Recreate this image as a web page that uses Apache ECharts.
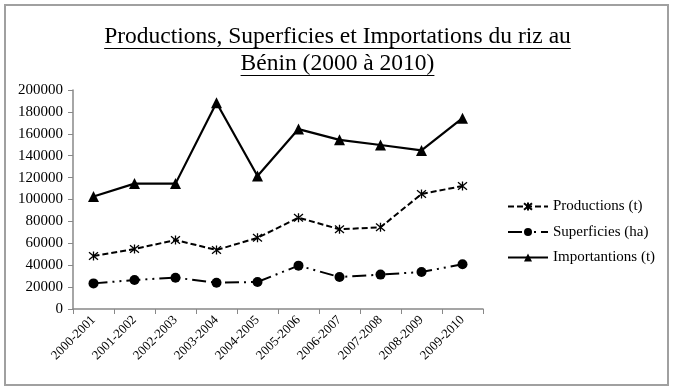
<!DOCTYPE html>
<html><head><meta charset="utf-8">
<script src="https://cdn.jsdelivr.net/npm/echarts@6/dist/echarts.min.js"></script>
<style>html,body{margin:0;padding:0;background:#fff}#c{width:675px;height:391px}</style>
</head><body><div id="c"></div>
<script>
var categories = ['2000-2001','2001-2002','2002-2003','2003-2004','2004-2005','2005-2006','2006-2007','2007-2008','2008-2009','2009-2010'];
var productions = [48500, 54800, 63000, 53900, 65000, 83400, 72800, 74600, 105000, 112300];
var superficies = [23400, 26500, 28600, 24000, 24700, 39600, 29200, 31400, 33800, 40800];
var importations = [102800, 114500, 114500, 188400, 121500, 164300, 154500, 149800, 144800, 174300];
var seriesNames = ['Productions (t)', 'Superficies (ha)', 'Importantions (t)'];
var titleLines = ['Productions, Superficies et Importations du riz au', 'Bénin (2000 à 2010)'];

var FONT = '"Liberation Serif", "Times New Roman", serif';
var titleSize = 23.5;
var cv = document.createElement('canvas').getContext('2d');
cv.font = titleSize + 'px ' + FONT;
var w1 = cv.measureText(titleLines[0]).width;
var w2 = cv.measureText(titleLines[1]).width;
var cx = 337.5;

var chart = echarts.init(document.getElementById('c'));
var star = 'path://M0,0L10,10M10,0L0,10M5,-1L5,11';
chart.setOption({
  backgroundColor: '#fff',
  animation: false,
  title: {
    text: titleLines.join('\n'),
    left: 'center', top: 18,
    textStyle: { fontFamily: FONT, fontSize: titleSize, fontWeight: 'normal', color: '#000', lineHeight: 27 }
  },
  graphic: [
    { type: 'rect', shape: { x: 5, y: 5, width: 663, height: 380 }, style: { fill: 'none', stroke: '#a0a0a0', lineWidth: 2 } },
    { type: 'line', shape: { x1: cx - w1 / 2, y1: 48.5, x2: cx + w1 / 2, y2: 48.5 }, style: { stroke: '#000', lineWidth: 1 } },
    { type: 'line', shape: { x1: cx - w2 / 2, y1: 75.5, x2: cx + w2 / 2, y2: 75.5 }, style: { stroke: '#000', lineWidth: 1 } }
  ],
  legend: {
    orient: 'vertical', left: 502, top: 194, itemGap: 10.5,
    itemWidth: 40, itemHeight: 10,
    textStyle: { fontFamily: FONT, fontSize: 15, color: '#000' },
    data: seriesNames
  },
  grid: { left: 73, top: 90, right: 192, bottom: 82 },
  xAxis: {
    type: 'category', data: categories, boundaryGap: true,
    axisLine: { lineStyle: { color: '#888', width: 1.5 } },
    axisTick: { show: true, length: 5, lineStyle: { color: '#888' } },
    axisLabel: { rotate: 45, fontFamily: FONT, fontSize: 13, color: '#000', margin: 9 }
  },
  yAxis: {
    type: 'value', min: 0, max: 200000, interval: 20000,
    axisLine: { show: true, lineStyle: { color: '#888', width: 1.5 } },
    axisTick: { show: true, length: 5, lineStyle: { color: '#888' } },
    splitLine: { show: false },
    axisLabel: { fontFamily: FONT, fontSize: 15, color: '#000', margin: 10, formatter: function (v) { return String(v); } }
  },
  series: [
    { name: seriesNames[0], type: 'line', data: productions, symbol: star, symbolSize: 9,
      lineStyle: { color: '#000', width: 2, type: [6, 3] },
      itemStyle: { color: 'none', borderColor: '#000', borderWidth: 1.3 } },
    { name: seriesNames[1], type: 'line', data: superficies, symbol: 'circle', symbolSize: 10,
      lineStyle: { color: '#000', width: 2, type: [14, 5, 2, 5, 2, 5] },
      itemStyle: { color: '#000' } },
    { name: seriesNames[2], type: 'line', data: importations, symbol: 'triangle', symbolSize: 11,
      lineStyle: { color: '#000', width: 2.2 },
      itemStyle: { color: '#000' } }
  ]
});
</script></body></html>
